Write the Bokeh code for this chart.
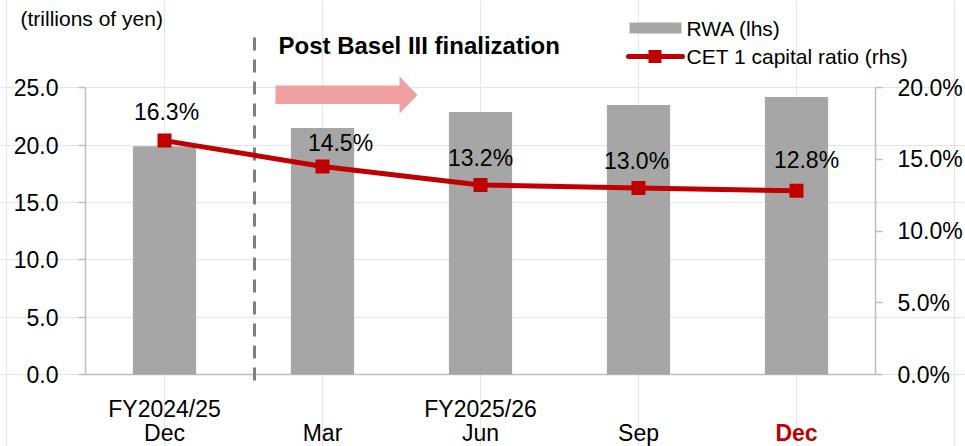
from bokeh.plotting import figure
from bokeh.models import Range1d, LinearAxis, FixedTicker, PrintfTickFormatter
from bokeh.core.properties import value
from bokeh.embed import file_html
from bokeh.resources import INLINE

# ---------------- data ----------------
categories = ["Dec", "Mar", "Jun", "Sep", "Dec"]
fiscal_years = ["FY2024/25", "", "FY2025/26", "", ""]
rwa = [19.9, 21.5, 22.9, 23.5, 24.2]            # trillions of yen (lhs)
cet1_ratio = [16.3, 14.5, 13.2, 13.0, 12.8]     # % (rhs)
left_ticks = [0, 5, 10, 15, 20, 25]
right_ticks = [0, 5, 10, 15, 20]

# ---------------- layout / style ----------------
W, H, M = 965, 446, 0
CAT0_PX, CAT_STEP = 164, 158          # px of first category centre, step
BASE_PY = 374                         # px of zero line
LEFT_PX_PER, RIGHT_PX_PER = 11.468, 14.35
FONT = "Liberation Sans"
BAR_COLOR = "#A6A6A6"
RED = "#C00000"
AXIS_COLOR = "#BFBFBF"

label_dx = [2, 18, 0, -2, 10]
label_dy = [-29, -23, -27, -27, -31]


def xd(px):
    return (px - CAT0_PX) / CAT_STEP


def yl(py):
    return (BASE_PY - py) / LEFT_PX_PER


def yr(py):
    return (BASE_PY - py) / RIGHT_PX_PER


idx = list(range(len(categories)))

p = figure(width=W, height=H, output_backend="svg", toolbar_location=None,
           x_range=Range1d(xd(M), xd(M + W)),
           y_range=Range1d(yl(M + H), yl(M)),
           x_axis_location=None, y_axis_location=None,
           min_border=0, title=None)
p.outline_line_color = None
p.background_fill_color = "white"
p.border_fill_color = "white"
p.extra_y_ranges = {"right": Range1d(yr(M + H), yr(M))}

first_edge = idx[0] - 0.5
last_edge = idx[-1] + 0.5


def style_axis(ax, standoff):
    ax.axis_line_color = AXIS_COLOR
    ax.axis_line_width = 1.5
    ax.major_tick_line_color = AXIS_COLOR
    ax.major_tick_line_width = 1.5
    ax.major_tick_out = 7
    ax.major_tick_in = 0
    ax.minor_tick_line_color = None
    ax.major_label_text_font = FONT
    ax.major_label_text_font_size = "23px"
    ax.major_label_text_color = "black"
    ax.major_label_standoff = standoff


la = LinearAxis(fixed_location=first_edge, ticker=FixedTicker(ticks=left_ticks),
                formatter=PrintfTickFormatter(format="%.1f"),
                bounds=(left_ticks[0], left_ticks[-1]))
style_axis(la, 20)
p.add_layout(la, "left")

ra = LinearAxis(y_range_name="right", fixed_location=last_edge,
                ticker=FixedTicker(ticks=right_ticks),
                formatter=PrintfTickFormatter(format="%.1f%%"),
                bounds=(right_ticks[0], right_ticks[-1]))
style_axis(ra, 15)
p.add_layout(ra, "right")

# x axis line
p.segment(x0=[first_edge], x1=[last_edge], y0=[0], y1=[0],
          line_color=AXIS_COLOR, line_width=1.5)

# bars
p.vbar(x=idx, top=rwa, width=0.4, fill_color=BAR_COLOR, line_color=None)

# dashed separator
p.segment(x0=[xd(254)], x1=[xd(254)], y0=[yl(380)], y1=[yl(28)],
          line_color="#7F7F7F", line_width=3, line_dash="13 9")

# title text
p.text(x=[xd(278)], y=[yl(45)], text=["Post Basel III finalization"],
       text_font=value(FONT), text_font_size="24px", text_font_style="bold",
       text_align="left", text_baseline="middle", text_color="black")

# arrow
ax_px = [275, 399, 399, 417, 399, 399, 275]
ay_px = [85, 85, 76, 94.5, 113, 103.5, 103.5]
p.patch(x=[xd(v) for v in ax_px], y=[yl(v) for v in ay_px],
        fill_color="#F0A0A0", line_color=None)

# CET1 line
p.line(idx, cet1_ratio, y_range_name="right", line_color=RED, line_width=5)
p.scatter(idx, cet1_ratio, y_range_name="right", marker="square", size=14,
          fill_color=RED, line_color=None)
p.text(x=idx, y=cet1_ratio, y_range_name="right",
       text=[f"{v:.1f}%" for v in cet1_ratio],
       x_offset=label_dx, y_offset=label_dy,
       text_font=value(FONT), text_font_size="23px", text_color="black",
       text_align="center", text_baseline="middle")

# x labels
p.text(x=idx, y=[0] * len(idx), text=fiscal_years, y_offset=34,
       text_font=value(FONT), text_font_size="23px", text_color="black",
       text_align="center", text_baseline="middle")
p.text(x=idx[:-1], y=[0] * (len(idx) - 1), text=categories[:-1], y_offset=58,
       text_font=value(FONT), text_font_size="23px", text_color="black",
       text_align="center", text_baseline="middle")
p.text(x=idx[-1:], y=[0], text=categories[-1:], y_offset=58,
       text_font=value(FONT), text_font_size="23px", text_color=RED,
       text_font_style="bold", text_align="center", text_baseline="middle")

# unit label
p.text(x=[xd(20)], y=[yl(18)], text=["(trillions of yen)"],
       text_font=value(FONT), text_font_size="21px", text_color="black",
       text_align="left", text_baseline="middle")

# legend
p.quad(left=[xd(629)], right=[xd(681)], top=[yl(22)], bottom=[yl(33)],
       fill_color=BAR_COLOR, line_color=None)
p.line([xd(628), xd(682)], [yl(56), yl(56)], line_color=RED, line_width=5,
       line_cap="round")
p.scatter([xd(654.5)], [yl(56)], marker="square", size=13,
          fill_color=RED, line_color=None)
p.text(x=[xd(686), xd(686)], y=[yl(27.5), yl(56)],
       text=["RWA (lhs)", "CET 1 capital ratio (rhs)"],
       text_font=value(FONT), text_font_size="21px", text_color="black",
       text_align="left", text_baseline="middle")

open("out.html", "w").write(file_html(p, INLINE))
